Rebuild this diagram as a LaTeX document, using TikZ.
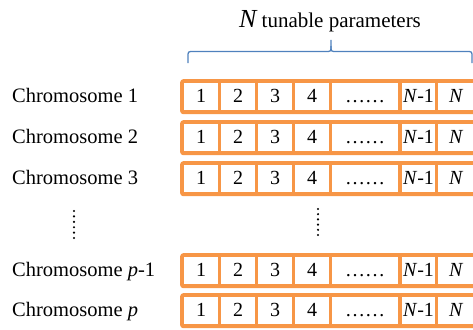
\documentclass[tikz,border=0pt]{standalone}
\usepackage{fontspec}
\setmainfont{Liberation Serif}
\definecolor{gaorange}{HTML}{F79646}
\definecolor{gablue}{HTML}{4F81BD}
\begin{document}
\begin{tikzpicture}[x=1pt,y=-1pt,
  rowbox/.style={fill=gaorange, rounded corners=3pt, minimum height=35pt, minimum width=300pt, inner sep=0pt, anchor=north west},
  cell/.style={fill=white, minimum height=27pt, inner sep=0pt, text height=12pt, text depth=0pt, font=\fontsize{20}{24}\selectfont},
  chromlabel/.style={anchor=base west, inner sep=0pt, font=\fontsize{20.5}{24}\selectfont},
  vdot/.style={fill=black},
  bracestyle/.style={gablue, line width=1.3pt}]
\useasboundingbox (0,0) rectangle (473,329);
\clip (0,0) rectangle (473,329);
% title
\node[anchor=base, inner sep=0pt, font=\fontsize{21}{24}\selectfont] (title) at (330,28) {{\fontsize{26}{30}\selectfont\itshape N} tunable parameters};
% brace
\coordinate (bl) at (188,63);
\coordinate (br) at (472,63);
\coordinate (bt) at (331,40);
\draw[bracestyle] (bl) -- (188,57) .. controls (188,51.5) .. (193.5,51.5) -- (325.5,51.5) .. controls (331,51.5) .. (331,46) -- (bt);
\draw[bracestyle] (331,46) .. controls (331,51.5) .. (336.5,51.5) -- (466.5,51.5) .. controls (472,51.5) .. (472,57) -- (br);
% rows
\foreach \r/\top/\lab in {1/79/{Chromosome 1}, 2/120/{Chromosome 2}, 3/161/{Chromosome 3}, 4/253/{Chromosome \textit{p}-1}, 5/293/{Chromosome \textit{p}}}{
  \node[rowbox] (row\r) at (180,\top) {};
  \pgfmathsetmacro{\yc}{\top+17.5}
  \pgfmathsetmacro{\yb}{\top+23}
  \node[chromlabel] (lab\r) at (12,\yb) {\lab};
  \foreach \c/\xa/\xb/\txt in {1/184/218/1, 2/221/255/2, 3/258/292/3, 4/295/329/4, 5/332/398/{……}, 6/402/435/{\textit{N}-1}, 7/438/474.5/{\textit{N}}}{
    \pgfmathsetmacro{\xc}{(\xa+\xb)/2}
    \pgfmathsetmacro{\w}{\xb-\xa}
    \node[cell, minimum width=\w pt] (c\r-\c) at (\xc,\yc) {\txt};
  }
}
% vertical ellipses
\foreach \k in {0,...,5}{
  \fill[vdot] (74,{211+5.4*\k}) circle (1.2pt);
  \fill[vdot] (318,{209+5.2*\k}) circle (1.2pt);
}
\end{tikzpicture}
\end{document}
